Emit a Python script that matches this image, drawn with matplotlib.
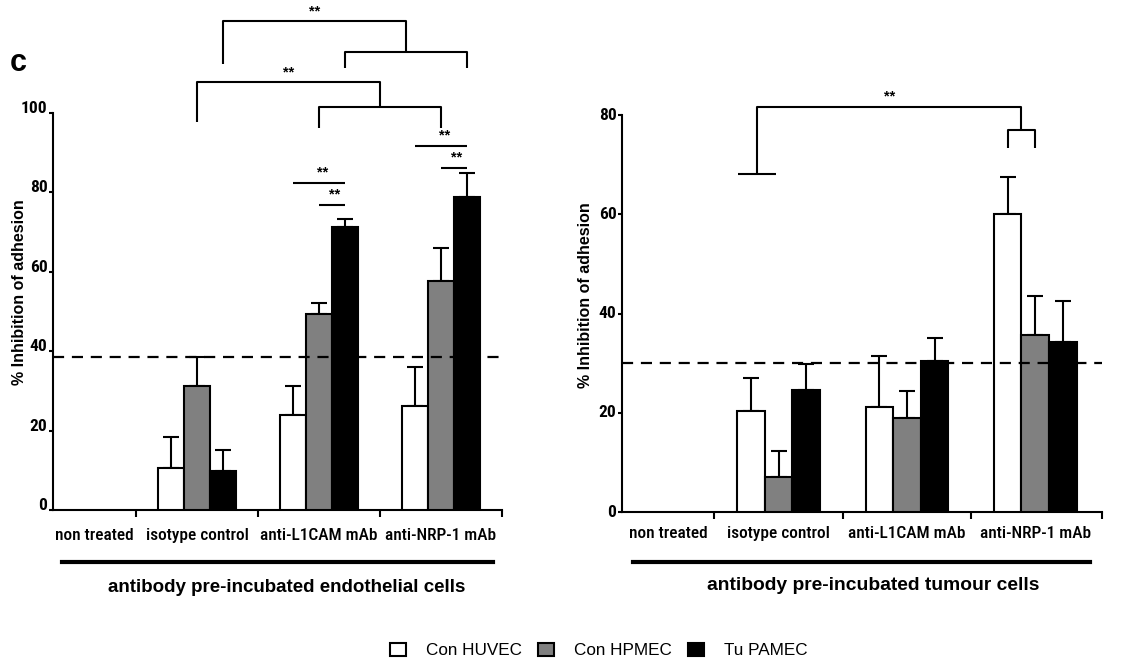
import matplotlib
matplotlib.use("Agg")
import matplotlib.pyplot as plt
from matplotlib.patches import Patch
import numpy as np

plt.rcParams["font.family"] = ["Roboto Condensed", "DejaVu Sans"]
ARIAL = ["Liberation Sans", "DejaVu Sans"]

categories = ["non treated", "isotype control", "anti-L1CAM mAb", "anti-NRP-1 mAb"]
series = ["Con HUVEC", "Con HPMEC", "Tu PAMEC"]
colors = ["white", "#808080", "black"]

# antibody pre-incubated endothelial cells (nan = no bar)
endo_huvec = [np.nan, 10.6, 23.9, 26.2]
endo_hpmec = [np.nan, 31.2, 49.4, 57.7]
endo_pamec = [np.nan, 9.8, 71.3, 78.9]
endo_huvec_err = [0, 7.8, 7.3, 9.8]
endo_hpmec_err = [0, 7.3, 2.7, 8.3]
endo_pamec_err = [0, 5.3, 2.0, 6.1]
endo_cutoff = 38.5

# antibody pre-incubated tumour cells
tum_huvec = [np.nan, 20.4, 21.2, 60.0]
tum_hpmec = [np.nan, 7.1, 19.0, 35.7]
tum_pamec = [np.nan, 24.6, 30.4, 34.3]
tum_huvec_err = [0, 6.6, 10.3, 7.5]
tum_hpmec_err = [0, 5.2, 5.4, 7.8]
tum_pamec_err = [0, 5.2, 4.7, 8.2]
tum_cutoff = 30.0

W = 0.215
offsets = [-W, 0, W]
LW = 1.5

fig = plt.figure(figsize=(11.47, 6.61), dpi=100)
ax1 = fig.add_axes([0.0462, 0.2284, 0.3915, 0.6006])
ax2 = fig.add_axes([0.5423, 0.2254, 0.4185, 0.6006])


def draw_panel(ax, values, errors, cutoff, ymax, yticks, xlim, label_pad, tick_va):
    x = np.arange(len(categories))
    for vals, errs, off, col in zip(values, errors, offsets, colors):
        vals = np.array(vals, dtype=float)
        errs = np.array(errs, dtype=float)
        m = ~np.isnan(vals)
        ax.errorbar(x[m] + off, vals[m], yerr=[np.zeros(m.sum()), errs[m]],
                    fmt="none", ecolor="black", elinewidth=LW, capsize=6,
                    capthick=LW, zorder=2)
        ax.bar(x[m] + off, vals[m], W, color=col, edgecolor="black",
               linewidth=LW, zorder=3)
    ax.axhline(cutoff, color="black", linestyle=(0, (5, 3.5)), linewidth=1.6, zorder=4)
    ax.set_xlim(*xlim)
    ax.set_ylim(0, ymax)
    ax.set_yticks(yticks)
    ax.set_yticklabels([str(t) for t in yticks], fontsize=12.5, fontweight="bold",
                       va=tick_va)
    # category labels: first one centred in the space left of the first divider
    label_x = [(xlim[0] + 0.5) / 2] + list(x[1:])
    ax.set_xticks(label_x)
    ax.set_xticklabels(categories, fontsize=12.5, fontweight="medium")
    ax.tick_params(axis="x", length=0, pad=label_pad)
    ax.set_xticks([0.5, 1.5, 2.5, xlim[1]], minor=True)
    ax.tick_params(axis="x", which="minor", length=5, width=LW)
    ax.tick_params(axis="y", length=3, width=LW, pad=1)
    for s in ["top", "right"]:
        ax.spines[s].set_visible(False)
    for s in ["left", "bottom"]:
        ax.spines[s].set_linewidth(LW)
    ax.set_ylabel("% Inhibition of adhesion", fontsize=11.5, fontweight="bold",
                  family=ARIAL)


draw_panel(ax1, [endo_huvec, endo_hpmec, endo_pamec],
           [endo_huvec_err, endo_hpmec_err, endo_pamec_err],
           endo_cutoff, 100, [0, 20, 40, 60, 80, 100], (-0.18, 3.5), 13, "baseline")
draw_panel(ax2, [tum_huvec, tum_hpmec, tum_pamec],
           [tum_huvec_err, tum_hpmec_err, tum_pamec_err],
           tum_cutoff, 80, [0, 20, 40, 60, 80], (-0.22, 3.52), 10, "center")
ax1.yaxis.set_label_coords(-0.058, 0.55)
ax2.yaxis.set_label_coords(-0.06, 0.547)


def seg(ax, xs, ys):
    ax.plot(xs, ys, color="black", linewidth=LW, clip_on=False,
            solid_capstyle="butt", zorder=5)


def stars(ax, x, y):
    ax.text(x, y, "**", ha="center", va="bottom", fontsize=10.5,
            fontweight="bold", clip_on=False, family=ARIAL)


# significance marks, left panel
pos = lambda g, s: g + offsets[s]
# pairwise within groups
for g, ytop, ylow in [(2, 82.4, 76.8), (3, 91.7, 86.2)]:
    seg(ax1, [pos(g, 0), pos(g, 2)], [ytop, ytop])
    stars(ax1, (pos(g, 0) + pos(g, 2)) / 2 + 0.03, ytop + 0.8)
    seg(ax1, [pos(g, 1), pos(g, 2)], [ylow, ylow])
    stars(ax1, (pos(g, 1) + pos(g, 2)) / 2 + 0.02, ylow + 0.8)

# nested brackets
for s, ytop, yleft, ysub, ysubleg in [(1, 107.8, 97.7, 101.5, 96.2),
                                      (2, 123.2, 112.3, 115.4, 111.3)]:
    xa, xb, xc = pos(1, s), pos(2, s), pos(3, s)
    xm = (xb + xc) / 2
    seg(ax1, [xa, xa, xm, xm], [yleft, ytop, ytop, ysub])
    seg(ax1, [xb, xb, xc, xc], [ysubleg, ysub, ysub, ysubleg])
    stars(ax1, (xa + xm) / 2, ytop + 0.6)

# right panel
xa = 0.83
xb, xc = pos(3, 0), pos(3, 1)
xm = (xb + xc) / 2
seg(ax2, [0.68, 0.98], [68.1, 68.1])
seg(ax2, [xa, xa, xm, xm], [68.1, 81.7, 81.7, 77.0])
seg(ax2, [xb, xb, xc, xc], [73.4, 77.0, 77.0, 73.4])
stars(ax2, (xa + xm) / 2, 82.3)

# group underlines and captions
fig.add_artist(plt.Line2D([62 / 1147, 493 / 1147], [1 - 562 / 661] * 2,
                          color="black", linewidth=3))
fig.add_artist(plt.Line2D([633 / 1147, 1090 / 1147], [1 - 562 / 661] * 2,
                          color="black", linewidth=3))
fig.text(287 / 1147, 1 - 587 / 661, "antibody pre-incubated endothelial cells",
         ha="center", va="center", fontsize=13.5, fontweight="bold", family=ARIAL)
fig.text(873 / 1147, 1 - 586 / 661, "antibody pre-incubated tumour cells",
         ha="center", va="center", fontsize=13.9, fontweight="bold", family=ARIAL)
fig.text(10 / 1147, 1 - 63 / 661, "c", ha="left", va="center", fontsize=22,
         fontweight="bold", family=ARIAL)

handles = [Patch(facecolor=c, edgecolor="black", linewidth=1.5) for c in colors]
fig.legend(handles, series, loc="center", bbox_to_anchor=(0.522, 0.016),
           ncol=3, frameon=False, handlelength=0.95, handleheight=0.8,
           columnspacing=0.9, handletextpad=1.2,
           prop={"family": ARIAL, "size": 12.3})

fig.savefig("out.png", dpi=100)
